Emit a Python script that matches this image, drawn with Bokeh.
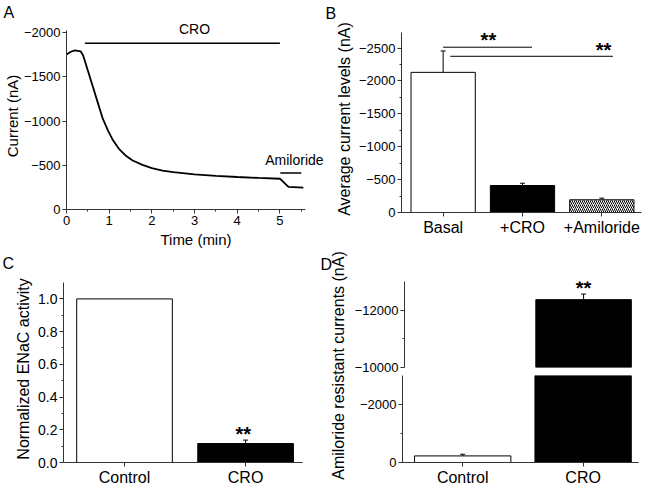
import math
from bokeh.plotting import figure
from bokeh.layouts import row, column
from bokeh.models import (Range1d, FixedTicker, Label, Whisker, ColumnDataSource,
                          TeeHead, PrintfTickFormatter)
from bokeh.core.properties import value
from bokeh.embed import file_html
from bokeh.resources import INLINE

FONT = "Liberation Sans"
AXC = "#333333"

# ---------------- data ----------------
# Panel A: current trace
time_min = [0.0, 0.1, 0.2, 0.33, 0.39, 0.5, 0.62, 0.74, 0.85, 0.97, 1.09, 1.24,
            1.4, 1.55, 1.78, 2.0, 2.25, 2.5, 3.0, 3.5, 4.0, 4.5, 5.0, 5.06, 5.2, 5.55]
current_nA = [-1755, -1785, -1800, -1790, -1743, -1574, -1385, -1198, -1028, -896,
              -783, -680, -605, -555, -505, -468, -440, -422, -397, -381, -368,
              -357, -348, -322, -256, -248]
cro_period = [0.43, 5.0]
cro_bar_level = -1882
amil_period = [5.01, 5.5]
amil_bar_level = -414
a_xticks = [0, 1, 2, 3, 4, 5]
a_xminor = [0.5, 1.5, 2.5, 3.5, 4.5, 5.5]
a_yticks = [0, -500, -1000, -1500, -2000]

# Panel B
b_categories = ["Basal", "+CRO", "+Amiloride"]
b_means = [-2130, -410, -193]
b_errors = [325, 35, 25]
b_sig_x0 = [1.0, 1.09]
b_sig_x1 = [2.12, 3.14]
b_sig_y = [-2512, -2374]
b_star_x = [1.57, 3.02]
b_star_y = [-2619, -2477]
b_yticks = [0, -500, -1000, -1500, -2000, -2500]
b_yminor = [-250, -750, -1250, -1750, -2250]

# Panel C
c_categories = ["Control", "CRO"]
c_means = [1.0, 0.116]
c_errors = [0.0, 0.021]
c_star_x = [1.98]
c_star_y = [0.174]
c_yticks = [0.0, 0.2, 0.4, 0.6, 0.8, 1.0]
c_yminor = [0.1, 0.3, 0.5, 0.7, 0.9]

# Panel D (broken axis)
d_categories = ["Control", "CRO"]
d_means = [-227, -12367]
d_errors = [58, 195]
d_star_x = [2.0]
d_star_y = [-12768]
d_upper_ticks = [-10000, -12000]
d_upper_minor = [-11000]
d_lower_ticks = [0, -2000]
d_lower_minor = [-1000]
D_LOW_END = -3000      # top of the lower axis segment
D_HIGH_START = -10000  # bottom of the upper axis segment
D_HIGH_END = -13000


def style(p, xfs="13px", yfs="13px", lfs="16px"):
    p.outline_line_color = None
    p.xgrid.visible = False
    p.ygrid.visible = False
    p.background_fill_color = "white"
    p.border_fill_color = "white"
    for ax in p.axis:
        ax.axis_line_color = AXC
        ax.axis_line_width = 1
        ax.major_tick_line_color = AXC
        ax.minor_tick_line_color = AXC
        ax.major_tick_in = 0
        ax.major_tick_out = 4
        ax.minor_tick_in = 0
        ax.minor_tick_out = 2
        ax.major_label_text_font = FONT
        ax.major_label_text_color = "black"
        ax.major_label_standoff = 2
        ax.axis_label_text_font = FONT
        ax.axis_label_text_font_style = "normal"
        ax.axis_label_text_color = "black"
        ax.axis_label_text_font_size = lfs
        ax.axis_label_standoff = 3
    for ax in p.xaxis:
        ax.major_label_text_font_size = xfs
    for ax in p.yaxis:
        ax.major_label_text_font_size = yfs


def letter(p, txt, offset, standoff):
    p.title.text = txt
    p.title.align = "left"
    p.title.offset = offset
    p.title.standoff = standoff
    p.title.text_font = FONT
    p.title.text_font_size = "16px"
    p.title.text_font_style = "normal"
    p.title.text_color = "black"
    p.title.vertical_align = "top"


def stars(p, xs, ys):
    p.text(x=xs, y=ys, text=["**"] * len(xs), text_font=value(FONT),
           text_font_size="20px", text_font_style="bold", text_color="black",
           text_align="center", text_baseline="alphabetic")


def whisk(p, base, means, errs):
    p.add_layout(Whisker(source=ColumnDataSource(dict(
        base=base, upper=[m - e for m, e in zip(means, errs)],
        lower=[m + e for m, e in zip(means, errs)])),
        base="base", upper="upper", lower="lower", line_color="black", line_width=1,
        upper_head=TeeHead(size=5, line_color="black"),
        lower_head=TeeHead(size=5, line_color="black")))


# ---------------- Panel A ----------------
pA = figure(width=325, height=250, x_range=Range1d(0, 6.068), y_range=Range1d(0, -2116),
            output_backend="svg", toolbar_location=None, frame_align=False,
            min_border_left=63, min_border_right=0, min_border_top=22, min_border_bottom=41)
pA.line(time_min, current_nA, line_color="black", line_width=1.8)
pA.line(cro_period, [cro_bar_level] * 2, line_color="black", line_width=1.5)
pA.line(amil_period, [amil_bar_level] * 2, line_color="black", line_width=1.5)
style(pA, "13px", "13px", "15px")
pA.xaxis.ticker = FixedTicker(ticks=a_xticks, minor_ticks=a_xminor)
pA.yaxis.ticker = FixedTicker(ticks=a_yticks, minor_ticks=[])
pA.xaxis.bounds = (0, 5.6)
pA.yaxis.bounds = (-2025, 0)
pA.xaxis.axis_label = "Time (min)"
pA.yaxis.axis_label = "Current (nA)"
pA.yaxis.axis_label_standoff = 0
pA.add_layout(Label(x=3.0, y=-2037, text="CRO", text_font=FONT, text_font_size="14px",
                    text_color="black", text_align="center", text_baseline="alphabetic"))
pA.add_layout(Label(x=5.34, y=-557, text="Amiloride", text_font=FONT, text_font_size="14px",
                    text_color="black", text_align="center", text_baseline="alphabetic"))
letter(pA, "A", -63, 0)

# ---------------- Panel B ----------------
pB = figure(width=325, height=250, x_range=Range1d(0.475, 3.5), y_range=Range1d(0, -2842),
            output_backend="svg", toolbar_location=None, frame_align=False,
            min_border_left=76, min_border_right=9, min_border_top=25, min_border_bottom=38)
b_x = [i + 1 for i in range(len(b_categories))]
srcB = ColumnDataSource(dict(x=b_x, top=b_means,
                             fill=["white", "black", "white"],
                             hatch=[" ", " ", "/"]))
pB.vbar(x="x", top="top", bottom=0, width=0.81, source=srcB, fill_color="fill",
        line_color="black", line_width=1, hatch_pattern="hatch", hatch_color="black",
        hatch_scale=4, hatch_weight=1)
whisk(pB, b_x, b_means, b_errors)
pB.segment(x0=b_sig_x0, y0=b_sig_y, x1=b_sig_x1, y1=b_sig_y, line_color="black", line_width=1)
stars(pB, b_star_x, b_star_y)
style(pB, "16px", "13px", "16px")
pB.xaxis.ticker = FixedTicker(ticks=b_x, minor_ticks=[])
pB.xaxis.major_label_overrides = {x: c for x, c in zip(b_x, b_categories)}
pB.yaxis.ticker = FixedTicker(ticks=b_yticks, minor_ticks=b_yminor)
pB.yaxis.bounds = (-2730, 0)
pB.yaxis.axis_label = "Average current levels (nA)"
letter(pB, "B", -76, 3)

# ---------------- Panel C ----------------
pC = figure(width=320, height=248, x_range=Range1d(0.496, 2.47), y_range=Range1d(0, 1.143),
            output_backend="svg", toolbar_location=None, frame_align=False,
            min_border_left=63, min_border_right=18, min_border_top=25, min_border_bottom=36)
c_x = [i + 1 for i in range(len(c_categories))]
pC.vbar(x=c_x, top=c_means, bottom=0, width=0.79, fill_color=["white", "black"],
        line_color="black", line_width=1)
whisk(pC, c_x[1:], c_means[1:], c_errors[1:])
stars(pC, c_star_x, c_star_y)
style(pC, "16px", "14px", "16px")
pC.xaxis.ticker = FixedTicker(ticks=c_x, minor_ticks=[])
pC.xaxis.major_label_overrides = {x: c for x, c in zip(c_x, c_categories)}
pC.yaxis.ticker = FixedTicker(ticks=c_yticks, minor_ticks=c_yminor)
pC.yaxis.formatter = PrintfTickFormatter(format="%.1f")
pC.yaxis.bounds = (0, 1.10)
pC.yaxis.axis_label = "Normalized ENaC activity"
letter(pC, "C", -61, 3)

# ---------------- Panel D ----------------
d_x = [i + 1 for i in range(len(d_categories))]
d_xr = Range1d(0.5, 2.46)

pDlab = figure(width=31, height=248, x_range=Range1d(0, 1), y_range=Range1d(0, 1),
               x_axis_location=None, y_axis_location=None, output_backend="svg",
               toolbar_location=None, min_border=0, frame_align=False)
pDlab.outline_line_color = None
pDlab.xgrid.visible = False
pDlab.ygrid.visible = False
pDlab.add_layout(Label(x=18, y=133, x_units="screen", y_units="screen",
                       text="Amiloride resistant currents (nA)", angle=math.pi / 2,
                       text_font=FONT, text_font_size="16px", text_color="black",
                       text_align="center", text_baseline="middle"))
pDlab.add_layout(Label(x=0, y=243, x_units="screen", y_units="screen", text="D",
                       text_font=FONT, text_font_size="16px", text_color="black",
                       text_align="left", text_baseline="top"))

# bars that reach the upper segment of the broken axis
up_idx = [i for i, m in enumerate(d_means) if m < D_HIGH_START]
up_x = [d_x[i] for i in up_idx]
up_means = [d_means[i] for i in up_idx]
up_errs = [d_errors[i] for i in up_idx]
fills = ["white", "black"]

pDu = figure(width=299, height=125, x_range=d_xr, y_range=Range1d(D_HIGH_START, D_HIGH_END),
             x_axis_location=None, output_backend="svg", toolbar_location=None,
             frame_align=False,
             min_border_left=51, min_border_right=12, min_border_top=31, min_border_bottom=8)
pDu.vbar(x=up_x, top=up_means, bottom=0, width=0.8, fill_color=[fills[i] for i in up_idx],
         line_color="black", line_width=1)
whisk(pDu, up_x, up_means, up_errs)
stars(pDu, d_star_x, d_star_y)
style(pDu, "16px", "13px", "16px")
pDu.yaxis.ticker = FixedTicker(ticks=d_upper_ticks, minor_ticks=d_upper_minor)

pDl = figure(width=299, height=123, x_range=d_xr, y_range=Range1d(0, D_LOW_END),
             output_backend="svg", toolbar_location=None, frame_align=False,
             min_border_left=51, min_border_right=12, min_border_top=0, min_border_bottom=36)
pDl.vbar(x=d_x, top=d_means, bottom=0, width=0.8, fill_color=fills,
         line_color="black", line_width=1)
whisk(pDl, d_x[:1], d_means[:1], d_errors[:1])
style(pDl, "16px", "13px", "16px")
pDl.xaxis.ticker = FixedTicker(ticks=d_x, minor_ticks=[])
pDl.xaxis.major_label_overrides = {x: c for x, c in zip(d_x, d_categories)}
pDl.yaxis.ticker = FixedTicker(ticks=d_lower_ticks, minor_ticks=d_lower_minor)

layout = column(row(pA, pB), row(pC, row(pDlab, column(pDu, pDl))))

open("out.html", "w").write(file_html(layout, INLINE))
